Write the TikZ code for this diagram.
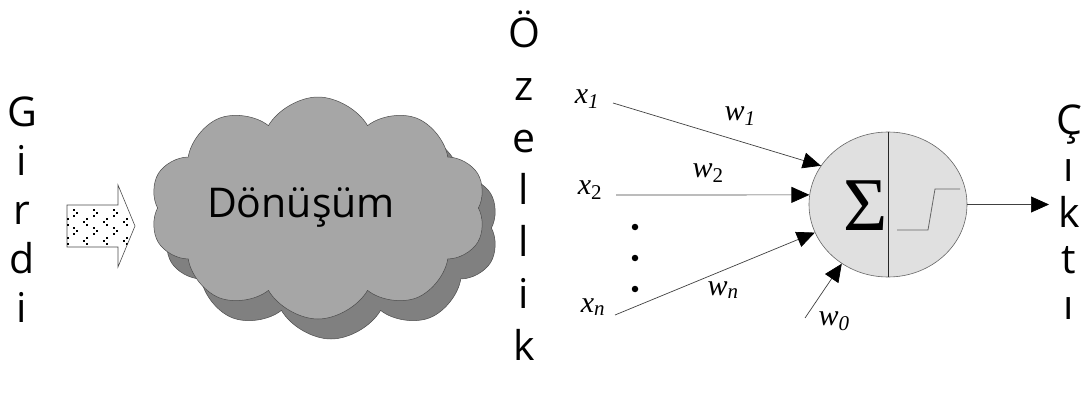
\documentclass[tikz,border=0pt]{standalone}
\usepackage{fontspec}
\setmainfont{Open Sans}
\newfontfamily\tms{Liberation Serif}
\usetikzlibrary{shapes.symbols,shapes.geometric,arrows.meta}
\begin{document}
\begin{tikzpicture}[x=1pt,y=-1pt,
  letter/.style={font=\fontsize{41}{48}\selectfont, anchor=base, inner sep=0pt},
  lbl/.style={font=\tms\itshape\fontsize{30}{34}\selectfont, inner sep=0pt},
  conn/.style={draw=black!75, line width=0.7pt, -{Triangle[length=18pt,width=16pt,color=black]}},
  cloudbox/.style={cloud, cloud puffs=10, cloud puff arc=120, aspect=1.6,
    minimum width=336pt, minimum height=222pt, draw=black!70, line width=0.5pt, inner sep=0pt},
  dotmark/.style={circle, fill=black, inner sep=0pt, minimum size=6.5pt}
]
\useasboundingbox (0,0) rectangle (1088,396);

% vertical words
\foreach \c [count=\i from 0] in {G,i,r,d,i}
  \node[letter] (g\i) at (22,126+49*\i) {\c};
\foreach \c [count=\i from 0] in {Ö,z,e,l,l,i,k}
  \node[letter] (o\i) at (524,48+52*\i) {\c};
\foreach \c [count=\i from 0] in {Ç,ı,k,t,ı}
  \node[letter] (c\i) at (1069,135+46*\i) {\c};

% block arrow with dotted fill
\path[draw=black!70, line width=0.6pt, fill=white]
  (67,205) -- (118,205) -- (118,185) -- (135,226) -- (118,267) -- (118,247) -- (67,247) -- cycle;
\begin{scope}
  \clip (67,205) -- (118,205) -- (118,185) -- (135,226) -- (118,267) -- (118,247) -- (67,247) -- cycle;
  \foreach \x in {73,93,113} {
    \foreach \y in {212,230} {
      \fill (\x,\y-3) rectangle +(2.4,2.4);
      \fill (\x+3,\y) rectangle +(2.4,2.4);
      \fill (\x,\y+3) rectangle +(2.4,2.4);
    }
  }
  \foreach \x in {64,83,103,123} {
    \foreach \y in {221,240} {
      \fill (\x+3,\y-3) rectangle +(2.4,2.4);
      \fill (\x,\y) rectangle +(2.4,2.4);
      \fill (\x+3,\y+3) rectangle +(2.4,2.4);
    }
  }
\end{scope}

% cloud with shadow
\node[cloudbox, fill=black!50] (shadow) at (331,228) {};
\node[cloudbox, fill=black!35] (cloud) at (318,208) {};
\node[font=\fontsize{41}{48}\selectfont, inner sep=0pt] (donusum) at (301,207) {Dönüşüm};

% neuron
\node[ellipse, minimum width=158pt, minimum height=145pt, fill=black!12,
      draw=black!60, line width=0.6pt, inner sep=0pt] (neuron) at (888,204.5) {};
\draw[black!85, line width=0.6pt] (neuron.north) -- (neuron.south);
\node[font=\tms\fontsize{76}{80}\selectfont, inner sep=0pt] (sigma) at (866,206) {Σ};
\draw[black!60, line width=0.8pt] (897,230) -- (928,230) -- (935,189) -- (960,189);

% inputs
\coordinate (s1) at (613,103);
\coordinate (s2) at (616,195);
\coordinate (sn) at (615,315);
\coordinate (s0) at (805,318);
\coordinate (out) at (1049,204.5);
\draw[conn] (s1) -- (neuron.150);
\draw[conn] (s2) -- (neuron.173);
\draw[conn] (sn) -- (neuron.201);
\draw[conn] (s0) -- (neuron.232);
\draw[conn] (neuron.east) -- (out);

\node[lbl] (x1) at (587,99) {x\textsubscript{1}};
\node[lbl] (x2) at (590,190) {x\textsubscript{\upshape 2}};
\node[lbl] (xn) at (593,307) {x\textsubscript{n}};
\node[lbl] (w1) at (740,116) {w\textsubscript{1}};
\node[lbl] (w2) at (708,173) {w\textsubscript{\upshape 2}};
\node[lbl] (wn) at (723,290) {w\textsubscript{n}};
\node[lbl] (w0) at (834,321) {w\textsubscript{0}};

\node[dotmark] (d1) at (635,227) {};
\node[dotmark] (d2) at (635,258) {};
\node[dotmark] (d3) at (635,289) {};
\end{tikzpicture}
\end{document}
